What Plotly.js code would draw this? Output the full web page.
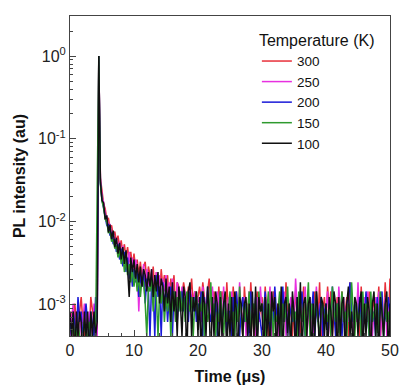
<!DOCTYPE html>
<html>
<head>
<meta charset="utf-8">
<script src="https://cdn.plot.ly/plotly-3.0.1.min.js"></script>
<style>html,body{margin:0;padding:0;background:#fff;}#chart{width:401px;height:387px;}</style>
</head>
<body>
<div id="chart"></div>
<script>
// Time base: 0 to 50 µs, sampled every 0.25 µs
const timeStep = 0.25;
// Photon counts per time bin (normalised to peak counts)
const peakCounts = 4880;
const temperatures = ["300", "250", "200", "150", "100"];
const colors = ["#e8303a", "#e830e0", "#1a1ad8", "#2e9a2e", "#111111"];

const counts300 = [3,4,2,5,3,2,4,6,3,2, 4,3,2,6,4,3,2,4, 4880,
 165,115,80,70,52,54,40,44,33,37,28,
 33,24,29,20,26,18,24,16,21,14, 20,13,17,11,16,10,14,16,9,14,
 11,8,14,7,12,9,6,13,8,11, 7,11,5,10,7,11,4,9,8,6,
 6,9,7,5,8,6,10,5,7,6,
 6,8,5,9,6,4,7,10,5,4, 7,5,3,8,4,7,5,3,9,4,
 5,3,8,4,7,3,6,4,2,8, 4,5,3,9,4,2,5,7,3,4,
 6,3,8,4,2,5,3,7,4,3, 5,2,4,7,3,9,4,3,6,2,
 4,7,3,5,2,4,8,3,4,6, 3,4,2,7,4,3,9,2,4,6,
 3,8,4,7,2,4,3,6,4,2, 7,3,4,6,2,9,3,4,5,3,
 4,2,8,3,6,4,3,7,2,4, 6,3,4,8,2,4,3,9,4,3,10];

const counts250 = [2,3,5,2,4,3,2,4,3,5, 3,2,4,3,2,5,3,2, 4880,
 158,98,84,60,57,42,46,34,37,28,31,
 24,28,19,25,16,22,14,21,12,18, 11,17,14,4,13,9,15,8,13,10,
 7,13,9,6,12,8,11,5,10,7, 11,6,9,4,10,6,3,9,7,5,
 8,5,7,6,4,8,6,5,7,4,
 6,5,3,8,5,4,7,3,5,8, 4,3,7,5,4,2,8,4,3,6,
 3,7,4,2,5,3,9,4,3,6, 2,4,7,3,5,4,2,6,3,8,
 4,2,6,3,4,8,2,4,5,3, 2,6,4,3,7,2,4,3,6,4,
 3,10,4,2,5,3,4,8,2,4, 6,3,2,4,8,3,5,4,2,3,
 4,7,3,2,6,4,3,2,8,4, 3,6,2,4,3,7,4,2,5,3,
 9,3,4,2,6,3,7,4,3,2, 4,6,3,7,2,4,3,6,2,5,3];

const counts200 = [3,2,4,3,2,6,3,4,2,3, 5,3,2,4,3,2,6,3, 4880,
 142,90,70,58,44,45,33,36,26,30,21,
 26,17,23,14,21,12,18,10,14,8, 13,9,12,6,11,8,12,5,10,7,
 2,9,7,2,11,6,8,2,9,5, 7,3,6,8,2,7,5,3,6,4,
 7,4,6,5,3,7,5,4,6,3,
 5,4,7,2,6,3,8,4,3,5, 3,6,2,4,7,3,4,6,2,4,
 4,2,6,3,7,4,2,4,6,3, 5,3,2,7,4,3,6,2,4,3,
 2,4,7,3,5,2,4,3,8,4, 3,5,2,8,3,6,2,5,4,3,
 4,2,6,3,4,7,3,2,4,5, 3,4,7,2,5,3,4,6,2,4,
 5,2,4,3,8,4,2,5,3,4, 2,4,3,5,6,9,4,3,5,4,
 3,6,2,4,3,7,4,2,5,3, 4,2,6,3,4,7,2,4,3,6,4];

const counts150 = [2,2,3,2,2,3,2,2,2,3, 2,2,3,2,2,2,2,120, 4880,
 138,86,72,52,48,36,37,28,30,23,25,
 18,22,15,20,12,17,11,15,9,13, 8,12,7,11,6,10,9,5,2,8,
 7,10,4,8,6,2,7,5,8,3, 6,4,7,2,5,7,3,6,4,7,
 4,6,3,7,5,4,6,2,5,7,
 3,5,4,7,2,5,3,4,9,3, 5,2,4,3,7,4,2,5,3,4,
 7,3,4,2,5,3,8,4,2,5, 3,4,7,2,4,5,3,2,7,4,
 5,3,2,4,7,3,5,2,4,3, 4,7,2,5,3,4,8,3,2,5,
 3,4,2,7,4,3,5,2,4,9, 2,5,3,4,7,3,2,4,5,3,
 4,3,5,2,8,4,3,5,2,4, 7,3,4,2,5,3,9,4,2,5,
 3,4,2,7,3,5,4,2,7,3, 4,5,2,3,7,4,2,5,3,4,2];

const counts100 = [4,2,4,1,4,2,4,3,1,4, 2,4,1,4,2,4,2,3, 4880,
 150,88,82,52,58,36,45,30,38,24,31,
 20,27,17,24,15,22,13,6,18,12, 17,10,15,9,14,8,13,11,7,12,
 8,13,6,11,7,12,5,10,8,4, 10,5,8,3,9,4,7,2,8,5,
 2,8,6,1,7,9,2,6,4,7,
 2,6,1,7,5,2,8,4,1,6, 2,7,5,1,6,2,5,7,1,5,
 2,6,1,7,4,1,6,5,2,5, 6,2,5,1,7,2,8,1,6,4,
 5,1,6,2,5,1,7,4,6,1, 5,2,8,1,5,6,2,5,1,7,
 4,1,6,2,9,1,5,6,2,5, 6,1,5,2,7,4,1,6,5,2,
 5,1,6,4,2,7,5,1,6,2, 5,6,1,5,8,2,4,1,6,5,
 2,5,7,1,5,2,6,4,1,5, 7,2,5,1,6,4,2,5,7,1,5];

const seriesCounts = [counts300, counts250, counts200, counts150, counts100];

const traces = seriesCounts.map((c, k) => ({
  x: c.map((_, i) => i * timeStep),
  y: c.map(v => v / peakCounts),
  type: "scatter",
  mode: "lines",
  name: temperatures[k],
  line: {color: colors[k], width: 1.5}
}));

const yTickVals = [1e-3, 1e-2, 1e-1, 1];
const yTickText = ["10<sup>-3</sup>", "10<sup>-2</sup>", "10<sup>-1</sup>", "10<sup>0</sup>"];
const yMinor = [];
[1e-4, 1e-3, 1e-2, 1e-1, 1].forEach(d => { for (let m = 2; m <= 9; m++) yMinor.push(m * d); });

const font = {family: "Arial, 'Liberation Sans', sans-serif", size: 16, color: "#222"};

const layout = {
  width: 401, height: 387,
  margin: {l: 70, r: 11, t: 16, b: 51},
  paper_bgcolor: "#fff", plot_bgcolor: "#fff",
  font: font,
  showlegend: true,
  legend: {
    x: 0.584, y: 0.972, xanchor: "left", yanchor: "top",
    bgcolor: "rgba(0,0,0,0)",
    font: {family: font.family, size: 13.5, color: "#111"},
    title: {text: "Temperature (K)", side: "top", font: {family: font.family, size: 16, color: "#111"}},
    tracegroupgap: 0
  },
  xaxis: {
    range: [0, 50], showgrid: false, zeroline: false,
    showline: true, linecolor: "#444", linewidth: 1, mirror: true,
    ticks: "inside", ticklen: 6, tickcolor: "#444", dtick: 10, tick0: 0,
    minor: {ticks: "inside", ticklen: 3, dtick: 2, tickcolor: "#444"},
    tickfont: font,
    title: {text: "<b>Time (μs)</b>", font: {family: font.family, size: 16, color: "#111"}, standoff: 12}
  },
  yaxis: {
    type: "log", range: [Math.log10(4.15e-4), Math.log10(3.05)],
    showgrid: false, zeroline: false,
    showline: true, linecolor: "#444", linewidth: 1, mirror: true,
    ticks: "inside", ticklen: 6, tickcolor: "#444",
    tickmode: "array", tickvals: yTickVals, ticktext: yTickText,
    minor: {ticks: "inside", ticklen: 3, tickmode: "array", tickvals: yMinor, tickcolor: "#444"},
    tickfont: font,
    title: {text: "<b>PL intensity (au)</b>", font: {family: font.family, size: 16, color: "#111"}, standoff: 8}
  }
};

Plotly.newPlot("chart", traces, layout, {displayModeBar: false, staticPlot: true});
</script>
</body>
</html>
